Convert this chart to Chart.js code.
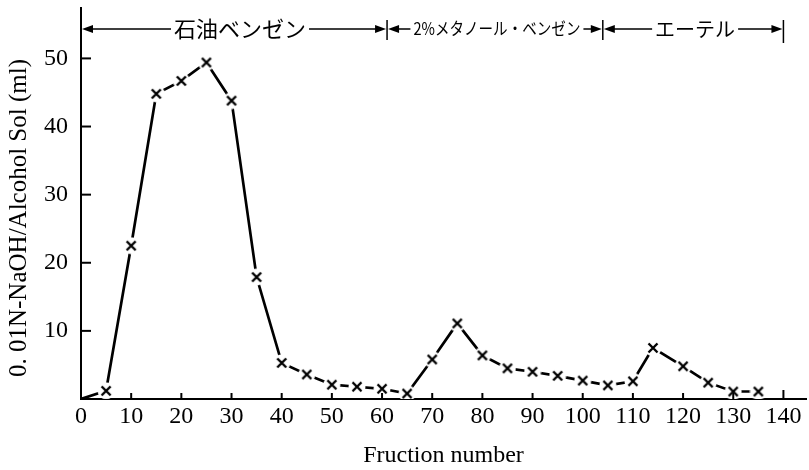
<!DOCTYPE html>
<html>
<head>
<meta charset="utf-8">
<script src="https://cdn.jsdelivr.net/npm/chart.js@4.4.0/dist/chart.umd.min.js"></script>
<style>
  html, body { margin: 0; padding: 0; background: #fff; }
  #wrap { width: 809px; height: 470px; }
</style>
</head>
<body>
<div id="wrap"><canvas id="fractionChart"></canvas></div>
<script>
// Titration volume per collected fraction
const fractions = [0, 5, 10, 15, 20, 25, 30, 35, 40, 45, 50, 55, 60, 65, 70, 75, 80, 85, 90, 95, 100, 105, 110, 114, 120, 125, 130, 135];
const volumes = [0, 1.2, 22.5, 44.8, 46.7, 49.4, 43.8, 17.9, 5.3, 3.6, 2.1, 1.8, 1.5, 0.8, 5.8, 11.1, 6.4, 4.5, 4.0, 3.4, 2.7, 2.0, 2.6, 7.5, 4.8, 2.4, 1.1, 1.1];

const xTicks = [0, 10, 20, 30, 40, 50, 60, 70, 80, 90, 100, 110, 120, 130, 140];
const yTicks = [10, 20, 30, 40, 50];

// Eluent changes (fraction numbers) and their names
const solventEdges = [0, 61, 104, 140];
const solventNames = ['石油ベンゼン', '2%メタノール・ベンゼン', 'エーテル'];

const yTitle = '0. 01N-NaOH/Alcohol Sol (ml)';

const serif = "'Liberation Serif', 'DejaVu Serif', serif";
const jpFont = "'Noto Sans CJK JP', sans-serif";

// Cross marker on a white disc, so the line breaks around each point
function crossMarker() {
  const c = document.createElement('canvas');
  c.width = 18;
  c.height = 18;
  const g = c.getContext('2d');
  g.fillStyle = '#fff';
  g.beginPath();
  g.arc(9, 9, 8.5, 0, Math.PI * 2);
  g.fill();
  g.strokeStyle = '#000';
  g.lineWidth = 2.4;
  g.beginPath();
  g.moveTo(4.5, 4.5); g.lineTo(13.5, 13.5);
  g.moveTo(13.5, 4.5); g.lineTo(4.5, 13.5);
  g.stroke();
  return c;
}
const marker = crossMarker();

// Short inward tick marks on both axes, plus the rotated y title
const axisExtras = {
  id: 'axisExtras',
  afterDraw(chart) {
    const { ctx, scales: { x, y }, chartArea: a } = chart;
    ctx.save();
    ctx.strokeStyle = '#000';
    ctx.lineWidth = 2;
    xTicks.forEach(v => {
      if (v === 0) return;
      const px = x.getPixelForValue(v);
      ctx.beginPath();
      ctx.moveTo(px, a.bottom);
      ctx.lineTo(px, a.bottom - (v === 140 ? 9 : 6));
      ctx.stroke();
    });
    yTicks.forEach(v => {
      const py = y.getPixelForValue(v);
      ctx.beginPath();
      ctx.moveTo(a.left, py);
      ctx.lineTo(a.left + 10, py);
      ctx.stroke();
    });

    ctx.translate(19, 218);
    ctx.rotate(-Math.PI / 2);
    ctx.fillStyle = '#000';
    ctx.font = '25px ' + serif;
    ctx.textAlign = 'center';
    ctx.textBaseline = 'middle';
    ctx.fillText(yTitle, 0, 0);
    ctx.restore();
  }
};

function arrowHead(ctx, tipX, tipY, dir) {
  ctx.beginPath();
  ctx.moveTo(tipX, tipY);
  ctx.lineTo(tipX - dir * 11, tipY - 4);
  ctx.lineTo(tipX - dir * 11, tipY + 4);
  ctx.closePath();
  ctx.fill();
}

// Solvent ranges drawn above the plot as labelled arrows
const solventBands = {
  id: 'solventBands',
  afterDraw(chart) {
    const { ctx, scales: { x } } = chart;
    const yLine = 29;
    ctx.save();
    ctx.strokeStyle = '#000';
    ctx.fillStyle = '#000';
    ctx.lineWidth = 1.5;
    ctx.textAlign = 'center';
    ctx.textBaseline = 'middle';

    solventEdges.forEach((v, i) => {
      if (i === 0) return;
      const px = x.getPixelForValue(v);
      ctx.beginPath();
      ctx.moveTo(px, yLine - 9);
      ctx.lineTo(px, yLine + (i === solventEdges.length - 1 ? 14 : 11));
      ctx.stroke();
    });

    solventNames.forEach((name, i) => {
      const left = x.getPixelForValue(solventEdges[i]) + 1;
      const right = x.getPixelForValue(solventEdges[i + 1]) - 1;
      const cx = (left + right) / 2 + (i === 0 ? 6 : 2);
      const narrow = name.length > 8;
      ctx.font = (narrow ? '17px ' : (i === 0 ? '22px ' : '20px ')) + jpFont;
      const maxW = narrow ? 167 : 200;
      const w = Math.min(ctx.measureText(name).width, maxW);
      ctx.fillText(name, cx, yLine, maxW);

      ctx.beginPath();
      ctx.moveTo(left + 4, yLine);
      ctx.lineTo(cx - w / 2 - 3, yLine);
      ctx.moveTo(cx + w / 2 + 3, yLine);
      ctx.lineTo(right - 4, yLine);
      ctx.stroke();
      arrowHead(ctx, left, yLine, -1);
      arrowHead(ctx, right, yLine, 1);
    });
    ctx.restore();
  }
};

new Chart(document.getElementById('fractionChart'), {
  type: 'line',
  data: {
    datasets: [{
      data: fractions.map((f, i) => ({ x: f, y: volumes[i] })),
      borderColor: '#000',
      borderWidth: 2.7,
      tension: 0,
      pointStyle: ctx => ctx.dataIndex === 0 ? false : marker,
      pointRadius: 9,
      pointHoverRadius: 9
    }]
  },
  options: {
    responsive: true,
    maintainAspectRatio: false,
    animation: false,
    layout: { autoPadding: false, padding: { top: 8, right: 3, left: 0, bottom: 0 } },
    plugins: {
      legend: { display: false },
      tooltip: { enabled: false }
    },
    scales: {
      x: {
        type: 'linear',
        min: 0,
        max: 144.5,
        afterBuildTicks: s => { s.ticks = xTicks.map(v => ({ value: v })); },
        afterFit: s => { s.height = 71; s.paddingLeft = 0; s.paddingRight = 0; },
        grid: { display: false, drawTicks: false },
        border: { display: true, color: '#000', width: 2 },
        ticks: {
          color: '#000',
          padding: 3,
          maxRotation: 0,
          autoSkip: false,
          font: { family: serif, size: 24 }
        },
        title: {
          display: true,
          text: 'Fruction number',
          color: '#000',
          padding: { top: 4, bottom: 0 },
          font: { family: serif, size: 24 }
        }
      },
      y: {
        min: 0,
        max: 57.4,
        afterBuildTicks: s => { s.ticks = yTicks.map(v => ({ value: v })); },
        afterFit: s => { s.width = 81; s.paddingTop = 0; s.paddingBottom = 0; },
        grid: { display: false, drawTicks: false },
        border: { display: true, color: '#000', width: 2 },
        ticks: {
          color: '#000',
          padding: 13,
          font: { family: serif, size: 24 }
        },
        title: { display: false }
      }
    }
  },
  plugins: [axisExtras, solventBands]
});
</script>
</body>
</html>
